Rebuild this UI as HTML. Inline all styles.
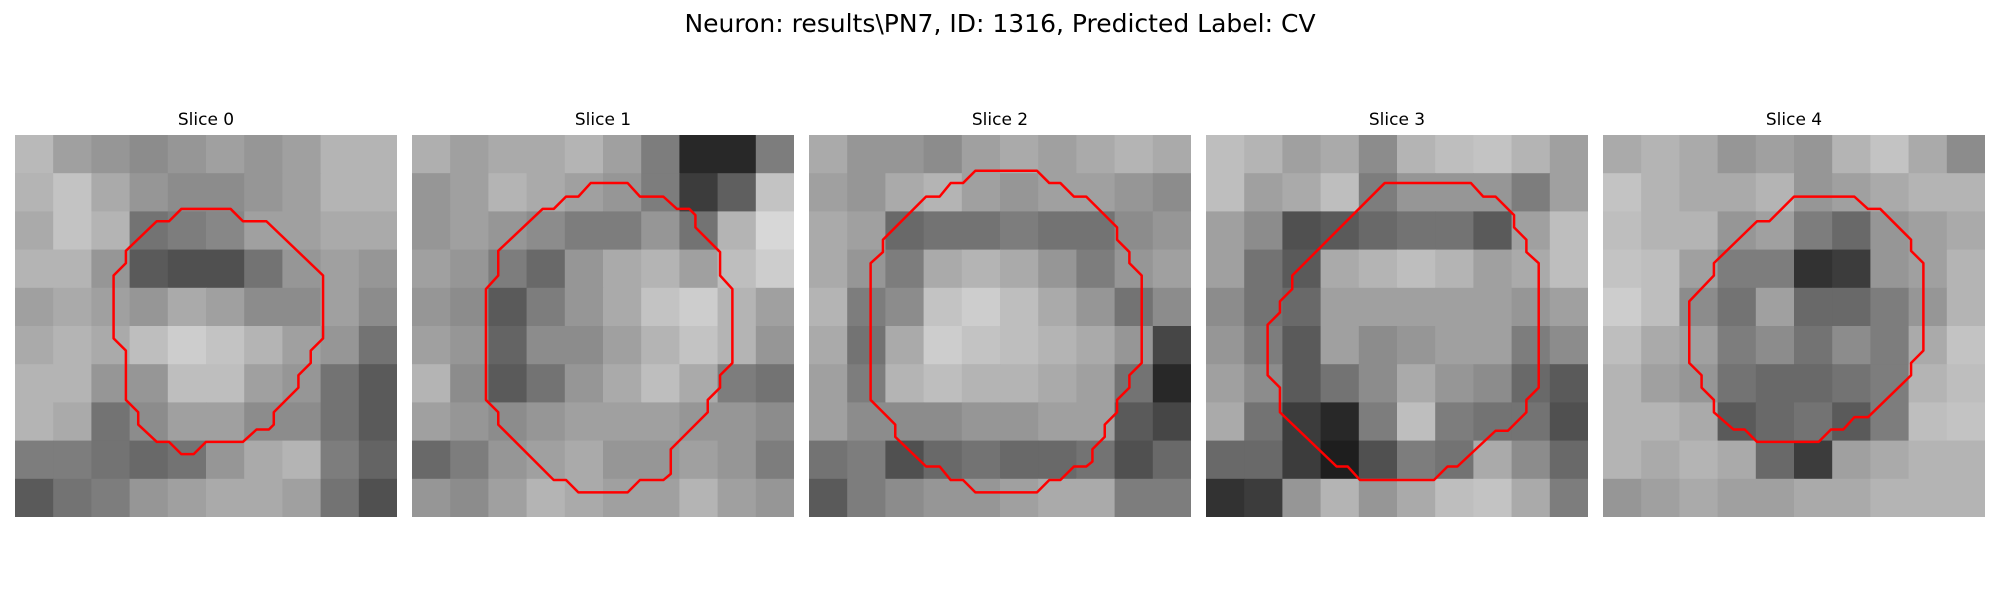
<!DOCTYPE html>
<html><head><meta charset="utf-8">
<style>
html,body{margin:0;padding:0;background:#fff;}
svg{display:block;font-family:"DejaVu Sans","Liberation Sans",sans-serif;}
</style></head>
<body>
<svg id="fig" width="2000" height="600" viewBox="0 0 2000 600">
<text x="1000" y="32" text-anchor="middle" font-size="25" fill="#000">Neuron: results\PN7, ID: 1316, Predicted Label: CV</text>
</svg>
<script>
const sliceTitles = ["Slice 0","Slice 1","Slice 2","Slice 3","Slice 4"];
const slice0 = [
[185,160,150,140,150,160,150,160,180,180],
[180,195,170,150,140,140,150,160,180,180],
[170,195,180,115,125,135,160,160,170,170],
[180,180,150,90,80,80,115,150,160,150],
[160,170,160,150,170,160,140,140,160,140],
[170,180,170,190,205,195,180,160,150,115],
[180,180,150,150,190,190,160,150,115,90],
[180,170,115,140,160,160,140,140,115,90],
[125,125,115,105,115,150,170,180,125,100],
[90,115,125,150,160,170,170,160,115,80]];
const slice1 = [
[175,160,170,170,180,160,125,40,40,125],
[150,160,180,170,160,150,125,60,95,195],
[150,160,150,140,125,125,150,115,180,215],
[160,150,125,105,150,170,180,160,190,205],
[150,140,90,125,150,170,195,205,180,160],
[160,150,100,140,140,160,180,195,180,150],
[180,140,90,115,150,170,190,170,125,115],
[160,150,140,150,160,160,160,150,150,140],
[105,125,150,160,170,150,150,160,150,125],
[150,140,160,180,170,160,160,180,160,150]];
const slice2 = [
[170,150,150,140,160,170,160,170,180,170],
[160,150,170,180,160,150,160,160,150,140],
[170,160,105,115,115,125,115,115,140,150],
[170,150,125,170,180,170,150,125,150,160],
[180,125,140,195,205,190,170,150,115,140],
[170,115,170,205,195,190,180,170,150,70],
[160,125,180,190,180,180,170,160,115,40],
[160,140,140,140,150,150,160,160,90,70],
[115,125,80,105,115,105,105,115,80,105],
[90,125,140,150,150,160,170,170,125,125]];
const slice3 = [
[190,180,160,170,140,180,190,195,180,160],
[190,160,170,190,125,150,150,150,125,160],
[160,140,80,90,105,115,115,90,160,190],
[160,115,90,170,180,190,180,160,170,190],
[140,115,105,160,160,160,160,160,150,160],
[150,125,90,160,140,150,160,160,125,140],
[160,140,90,115,140,170,150,140,105,90],
[170,115,60,40,125,190,125,115,115,80],
[105,105,60,30,80,125,115,170,140,105],
[50,60,150,180,150,170,190,195,170,125]];
const slice4 = [
[170,180,170,150,160,150,180,195,170,140],
[195,180,170,170,180,150,160,170,180,180],
[190,180,180,150,160,125,105,150,160,170],
[195,190,160,125,125,50,60,150,160,180],
[205,190,140,115,160,105,105,125,150,180],
[190,170,160,125,140,115,140,125,170,195],
[180,160,150,115,105,105,115,125,180,190],
[180,180,170,90,105,115,90,125,190,195],
[180,170,180,170,105,60,160,170,180,180],
[150,160,170,160,160,170,170,180,180,180]];
const slices = [slice0,slice1,slice2,slice3,slice4];
const contour0 = [13.5,6,17.5,6,18.5,7,20.4,7,25,11.4,25,16.5,24,17.5,24,18.5,23,19.5,23,20.5,21,22.5,21,23.5,20.6,23.9,19.6,23.9,18.5,24.9,15.5,24.9,14.5,25.9,13.5,25.9,12.5,24.9,11.5,24.9,10,23.5,10,22.5,9,21.5,9,17.5,8,16.5,8,11.4,9,10.4,9,9.4,11.5,7,12.5,7];
const contour1 = [14.5,3.9,17.5,3.9,18.5,5,20.4,5,21.5,6,22.5,6,23,6.5,23,7.5,25,9.5,25,11.4,26,12.5,26,18.5,25,19.5,25,20.5,24,21.5,24,22.5,21,25.5,21,27.5,20.4,28,18.5,28,17.5,29,13.5,29,12.5,28,11.5,28,7,23.5,7,22.5,6,21.5,6,12.5,7,11.4,7,9.4,10.6,6,11.5,6,12.5,5,13.5,5];
const contour2 = [13.5,2.9,18.5,2.9,19.5,3.9,20.4,3.9,21.5,5,22.5,5,25,7.5,25,8.5,26,9.5,26,10.4,27,11.4,27,18.5,26,19.5,26,20.5,25,21.5,25,22.5,24,23.5,24,24.5,23,25.5,23,26.5,22.5,26.9,21.5,26.9,20.4,28,19.5,28,18.5,29,13.5,29,12.5,28,11.5,28,10.6,26.9,9.5,26.9,7,24.5,7,23.5,6,22.5,5,21.5,5,10.4,6,9.5,6,8.5,9.5,5,10.6,5,11.5,3.9,12.5,3.9];
const contour3 = [14.5,3.9,21.5,3.9,22.5,5,23.5,5,25,6.5,25,7.5,26,8.5,26,9.5,27,10.4,27,20.5,26,21.5,26,22.5,24.5,24,23.5,24,20.4,26.9,19.6,26.9,18.5,28,12.5,28,11.5,26.9,10.6,26.9,6,22.5,6,20.5,5,19.5,5,15.4,6,14.4,6,13.5,7,12.5,7,11.4];
const contour4 = [15.5,5,20.4,5,21.5,6,22.5,6,25,8.5,25,9.4,26,10.4,26,17.5,25,18.5,25,19.5,21.5,22.9,20.4,22.9,19.5,23.9,18.5,23.9,17.5,24.9,12.5,24.9,11.5,23.9,10.6,23.9,9,22.5,9,21.5,8,20.5,8,19.5,7,18.5,7,13.5,9,11.4,9,10.4,12.5,7,13.5,7];
const contours = [contour0,contour1,contour2,contour3,contour4];

const NS = "http://www.w3.org/2000/svg";
const svg = document.getElementById("fig");
const panelX0 = 15, panelStep = 397, panelY0 = 135, panelSize = 382, gridCells = 31;
function xScale(p, c){ return panelX0 + p*panelStep + c*panelSize/gridCells; }
function yScale(c){ return panelY0 + c*panelSize/gridCells; }

slices.forEach((grid, p) => {
  const g = document.createElementNS(NS, "g");
  
  
  svg.appendChild(g);
  const t = document.createElementNS(NS, "text");
  t.setAttribute("x", panelX0 + p*panelStep + panelSize/2);
  t.setAttribute("y", 125);
  t.setAttribute("text-anchor", "middle");
  t.setAttribute("font-size", "17");
  t.textContent = sliceTitles[p];
  
  
  g.appendChild(t);
  const rows = grid.length, cols = grid[0].length;
  const bw = panelSize/cols, bh = panelSize/rows;
  grid.forEach((row, r) => row.forEach((v, c) => {
    const rc = document.createElementNS(NS, "rect");
    rc.setAttribute("x", panelX0 + p*panelStep + c*bw);
    rc.setAttribute("y", panelY0 + r*bh);
    rc.setAttribute("width", (c === cols-1) ? bw : bw + 0.6);
    rc.setAttribute("height", (r === rows-1) ? bh : bh + 0.6);
    rc.setAttribute("fill", `rgb(${v},${v},${v})`);
    
    
    g.appendChild(rc);
  }));
  const pts = contours[p];
  let s = "";
  for (let i = 0; i < pts.length; i += 2) s += xScale(p, pts[i]) + "," + yScale(pts[i+1]) + " ";
  const poly = document.createElementNS(NS, "polygon");
  poly.setAttribute("points", s.trim());
  poly.setAttribute("fill", "none");
  poly.setAttribute("stroke", "#ff0000");
  poly.setAttribute("stroke-width", "2.5");
  poly.setAttribute("stroke-linejoin", "round");
  
  
  g.appendChild(poly);
});
</script>
</body></html>
